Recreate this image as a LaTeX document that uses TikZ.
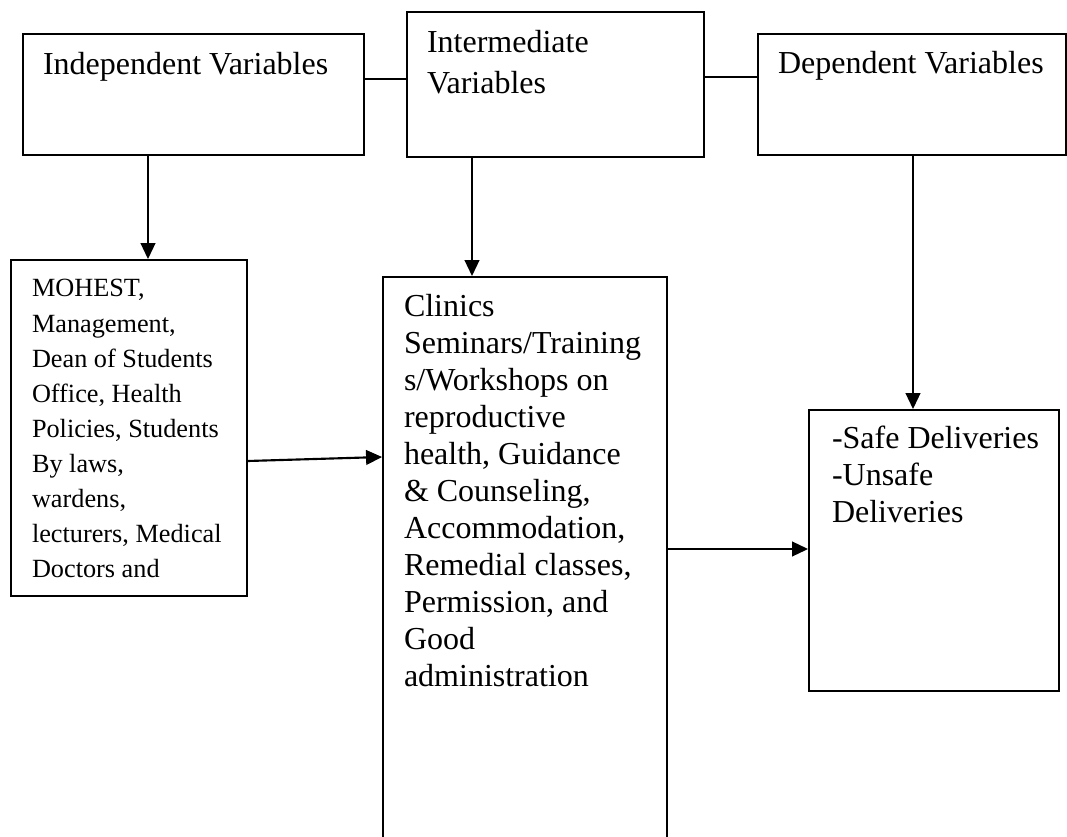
\documentclass[tikz,border=0pt]{standalone}
\usepackage{fontspec}
\setmainfont{Liberation Serif}
\usetikzlibrary{arrows.meta,fit}
\tikzset{
  boxst/.style={draw=black, line width=1.4pt, inner sep=0pt, fill=none},
  arr/.style={draw=black, line width=1.6pt, -{Triangle[length=12pt,width=11pt]}},
  link/.style={draw=black, line width=1.6pt},
  txt/.style={inner sep=0pt, outer sep=0pt, anchor=base west},
}
\newcommand{\bigtxt}{\fontsize{24}{27.7}\selectfont}
\newcommand{\smalltxt}{\fontsize{19.7}{26.3}\selectfont}
\begin{document}
\begin{tikzpicture}[x=0.75pt,y=-0.75pt]
\useasboundingbox[fill=white] (0,0) rectangle (1067,837);
% boxes
\node[boxst, fit={(23,34) (364,155)}] (b1) {};
\node[boxst, fit={(407,12) (704,157)}] (b2) {};
\node[boxst, fit={(758,34) (1066,155)}] (b3) {};
\node[boxst, fit={(11,260) (247,596)}] (b4) {};
\node[boxst, fit={(383,277) (667,860)}] (b5) {};
\node[boxst, fit={(809,410) (1059,691)}] (b6) {};
% texts
\node[txt] (t1) at (43,75) {\bigtxt Independent Variables};
\node[txt] (t2) at (427,53) {\parbox[t]{270pt}{\raggedright\fontsize{24}{30.75}\selectfont Intermediate\\ Variables}};
\node[txt] (t3) at (778,74) {\bigtxt Dependent Variables};
\node[txt] (t4) at (32,297) {\parbox[t]{200pt}{\raggedright\smalltxt MOHEST,\\ Management,\\ Dean of Students\\ Office, Health\\ Policies, Students\\ By laws,\\ wardens,\\ lecturers, Medical\\ Doctors and}};
\node[txt] (t5) at (404,317) {\parbox[t]{260pt}{\raggedright\bigtxt Clinics\\ Seminars/Training\\ s/Workshops on\\ reproductive\\ health, Guidance\\ \& Counseling,\\ Accommodation,\\ Remedial classes,\\ Permission, and\\ Good\\ administration}};
\node[txt] (t6) at (832,449) {\parbox[t]{220pt}{\raggedright\bigtxt -Safe Deliveries\\ -Unsafe\\ Deliveries}};
% helper coordinates
\coordinate (y12) at (0,79);
\coordinate (y23) at (0,77);
\coordinate (x14) at (148,0);
\coordinate (x25) at (472,0);
\coordinate (x36) at (913,0);
\coordinate (y4a) at (0,461);
\coordinate (y4b) at (0,457);
\coordinate (y56) at (0,549);
% connectors
\draw[link] (b1.east |- y12) -- (b2.west |- y12);
\draw[link] (b2.east |- y23) -- (b3.west |- y23);
\draw[arr] (b1.south -| x14) -- (b4.north -| x14);
\draw[arr] (b2.south -| x25) -- (b5.north -| x25);
\draw[arr] (b3.south -| x36) -- (b6.north -| x36);
\draw[arr] (b4.east |- y4a) -- (b5.west |- y4b);
\draw[arr] (b5.east |- y56) -- (b6.west |- y56);
\end{tikzpicture}
\end{document}
